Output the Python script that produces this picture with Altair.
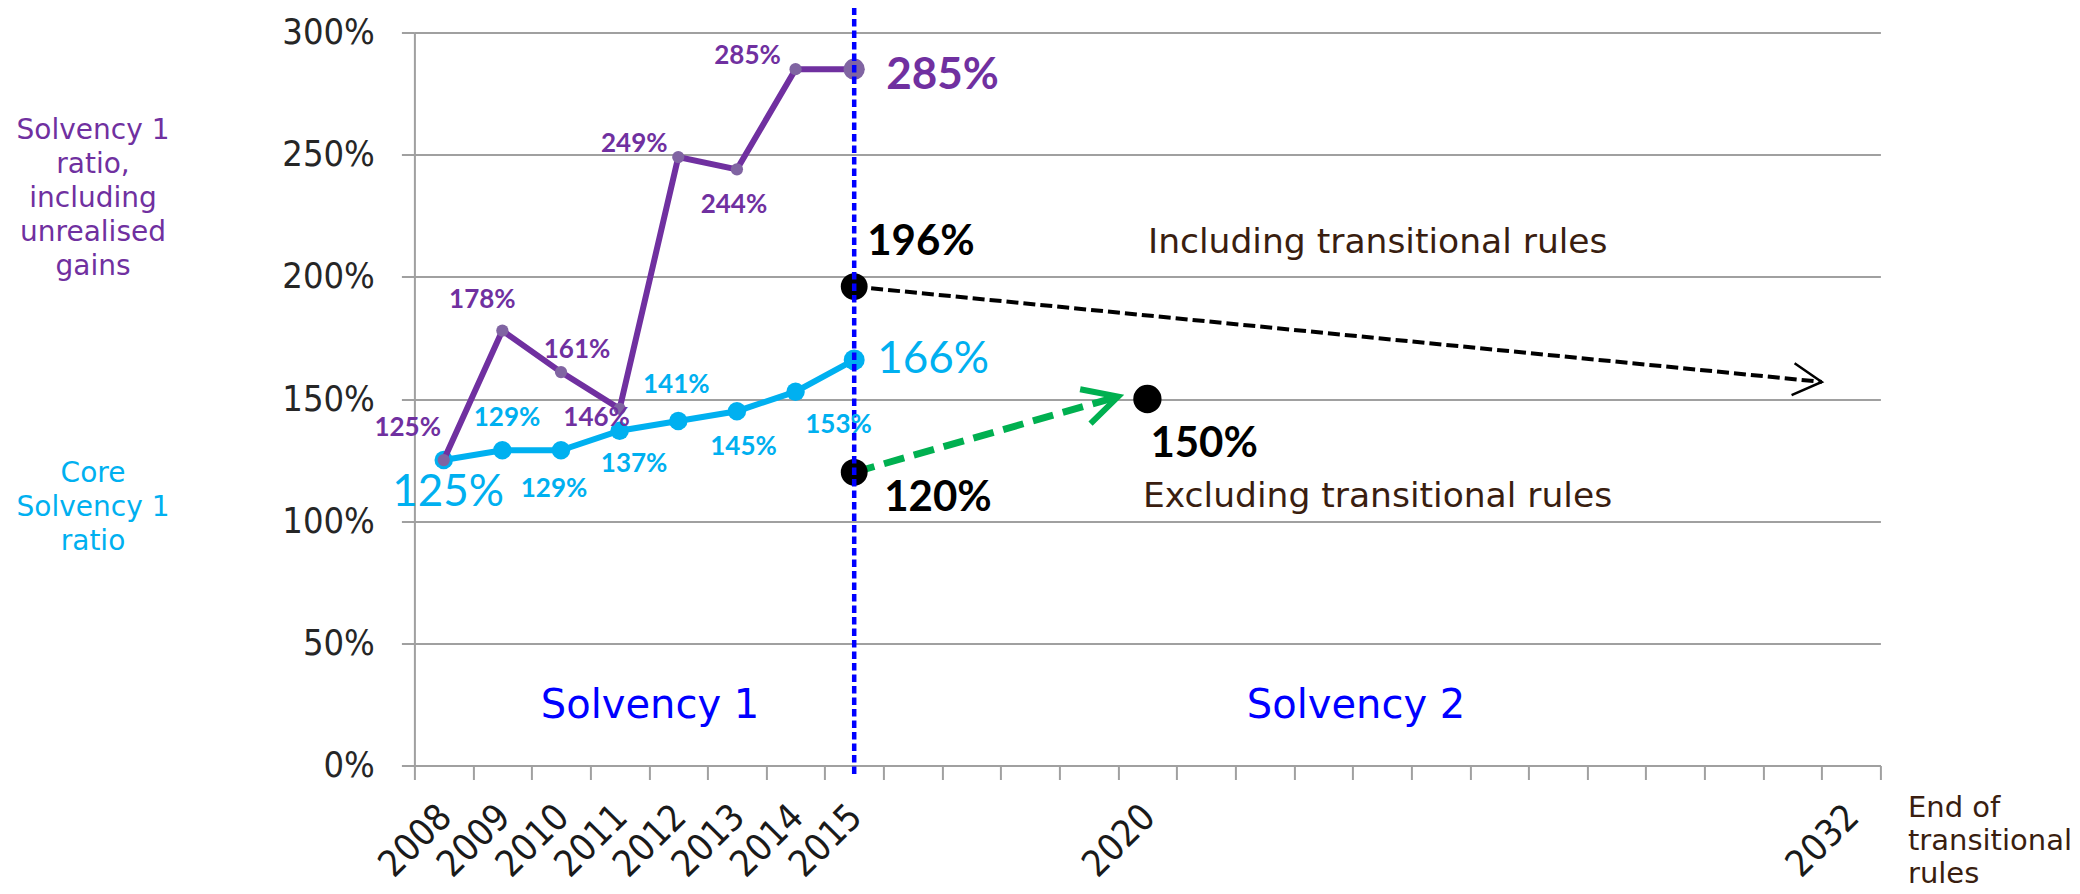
import altair as alt
import pandas as pd

# ---------------- data ----------------
YEARS = [2008, 2009, 2010, 2011, 2012, 2013, 2014, 2015]
SOLVENCY1_INCL_GAINS = [125, 178, 161, 146, 249, 244, 285, 285]
CORE_SOLVENCY1 = [125, 129, 129, 137, 141, 145, 153, 166]

S2_YEARS = [2015, 2015, 2020]
S2_VALUES = [196, 120, 150]

INCL_ARROW_YEARS = [2015, 2031.5]
INCL_ARROW_VALUES = [196, 157]
EXCL_ARROW_YEARS = [2015, 2019.5]
EXCL_ARROW_VALUES = [120, 151]

AXIS_LABEL_YEARS = [2008, 2009, 2010, 2011, 2012, 2013, 2014, 2015, 2020, 2032]
Y_TICKS = [0, 50, 100, 150, 200, 250, 300]
DIVIDER_YEAR = [2015]

LEFT_NOTE_PURPLE = ["Solvency 1", "ratio,", "including", "unrealised", "gains"]
LEFT_NOTE_CYAN = ["Core", "Solvency 1", "ratio"]
END_NOTE = ["End of", "transitional", "rules"]

# ---------------- styles ----------------
W, H = 1466, 733
PAD_L, PAD_T = 406.4, 24.5
PURPLE = "#7030A0"
PURPLE_MK = "#8064A2"
CYAN = "#00B0F0"
GREEN = "#00B050"
BLUE = "#0000FF"
BROWN = "#3A1E10"
GRID = "#A0A0A0"
VERD = "DejaVu Sans"
AXF = "'DejaVu Sans Condensed', 'DejaVu Sans'"
LBL = "Lato"

PURPLE_OFFS = {2008: (-36, -33.5), 2009: (-20, -32.5), 2010: (16, -24), 2011: (-23, 7.6),
               2012: (-44, -15), 2013: (-3, 34), 2014: (-48, -15)}
CYAN_OFFS = {2009: (4.7, -33.7), 2010: (-7, 37), 2011: (14.5, 31.5), 2012: (-2, -37.4),
             2013: (6.6, 34.5), 2014: (43, 31.8)}

X_SCALE = alt.Scale(domain=[2007.5, 2032.5], nice=False, zero=False)
Y_SCALE = alt.Scale(domain=[0, 300], nice=False, zero=True)
X_AXIS = alt.Axis(values=[2007.5 + i for i in range(26)], labels=False, title=None, grid=False,
                  domainColor=GRID, domainWidth=2, tickColor=GRID, tickWidth=2, tickSize=14)
Y_AXIS = alt.Axis(values=Y_TICKS, labelExpr="datum.value + '%'", title=None, grid=True,
                  gridColor=GRID, gridWidth=2, domainColor=GRID, domainWidth=2,
                  tickColor=GRID, tickWidth=2, tickSize=13, labelPadding=27,
                  labelFont=AXF, labelFontSize=36, labelColor="#262626")


def X():
    return alt.X("year:Q", scale=X_SCALE, axis=X_AXIS)


def Y():
    return alt.Y("value:Q", scale=Y_SCALE, axis=Y_AXIS)


purple = pd.DataFrame({"year": YEARS, "value": SOLVENCY1_INCL_GAINS})
purple["label"] = [f"{v}%" for v in SOLVENCY1_INCL_GAINS]
cyan = pd.DataFrame({"year": YEARS, "value": CORE_SOLVENCY1})
cyan["label"] = [f"{v}%" for v in CORE_SOLVENCY1]
s2 = pd.DataFrame({"year": S2_YEARS, "value": S2_VALUES})
s2["label"] = [f"{v}%" for v in S2_VALUES]
incl = pd.DataFrame({"year": INCL_ARROW_YEARS, "value": INCL_ARROW_VALUES})
excl = pd.DataFrame({"year": EXCL_ARROW_YEARS, "value": EXCL_ARROW_VALUES})
incl_tip = incl.tail(1)
excl_tip = excl.tail(1)
axis_lbl = pd.DataFrame({"year": AXIS_LABEL_YEARS, "t": [str(y) for y in AXIS_LABEL_YEARS]})
divider = pd.DataFrame({"year": DIVIDER_YEAR})

layers = []

# lines
layers.append(alt.Chart(cyan).mark_line(color=CYAN, strokeWidth=6).encode(x=X(), y=Y()))
layers.append(alt.Chart(cyan).mark_circle(color=CYAN, opacity=1).encode(
    x=X(), y=Y(), size=alt.condition("datum.year == 2015", alt.value(440), alt.value(340))))
layers.append(alt.Chart(purple).mark_line(color=PURPLE, strokeWidth=6).encode(x=X(), y=Y()))
layers.append(alt.Chart(purple).mark_circle(color=PURPLE_MK, opacity=1).encode(
    x=X(), y=Y(), size=alt.condition("datum.year == 2015", alt.value(450), alt.value(150))))

# arrows
CHEV = "M-1.8,-1L0,0L-1.8,1"
layers.append(alt.Chart(incl).mark_line(color="black", strokeWidth=4, strokeDash=[12, 5]).encode(x=X(), y=Y()))
layers.append(alt.Chart(incl_tip).mark_point(shape=CHEV, size=1024, filled=False, stroke="black",
                                             strokeWidth=2.5, angle=5.4, opacity=1).encode(x=X(), y=Y()))
layers.append(alt.Chart(excl).mark_line(color=GREEN, strokeWidth=7, strokeDash=[21, 10]).encode(x=X(), y=Y()))
layers.append(alt.Chart(excl_tip).mark_point(shape="M-1.9,-1L0,0L-1.9,1", size=1296, filled=False, stroke=GREEN,
                                             strokeWidth=6, angle=343.2, opacity=1).encode(x=X(), y=Y()))

# black solvency 2 points
layers.append(alt.Chart(s2).mark_circle(color="black", opacity=1).encode(
    x=X(), y=Y(), size=alt.condition("datum.year == 2020", alt.value(800), alt.value(720))))

# divider
layers.append(alt.Chart(divider).mark_rule(color=BLUE, strokeWidth=4.5, strokeDash=[7.5, 4]).encode(
    x=X(), y=alt.value(-25), y2=alt.value(H + 10)))


def label(df, year, dx, dy, color, size, weight="bold", align="center", value=None):
    cond = f"datum.year == {year}" + (f" && datum.value == {value}" if value is not None else "")
    return alt.Chart(df).transform_filter(cond).mark_text(
        font=LBL, fontSize=size, fontWeight=weight, color=color, align=align, baseline="middle",
        dx=dx, dy=dy + 0.06 * size).encode(x=X(), y=Y(), text="label:N")


for yr, (dx, dy) in PURPLE_OFFS.items():
    layers.append(label(purple, yr, dx, dy, PURPLE, 26))
layers.append(label(purple, 2015, 32, 4, PURPLE, 44, align="left"))
for yr, (dx, dy) in CYAN_OFFS.items():
    layers.append(label(cyan, yr, dx, dy, CYAN, 26))
layers.append(label(cyan, 2008, 4.5, 30, CYAN, 44, weight="normal"))
layers.append(label(cyan, 2015, 23, -3, CYAN, 44, weight="normal", align="left"))
layers.append(label(s2, 2015, 13, -47, "black", 42, align="left", value=196))
layers.append(label(s2, 2015, 30, 23, "black", 42, align="left", value=120))
layers.append(label(s2, 2020, 3, 42, "black", 42, align="left"))

# x axis year labels
layers.append(alt.Chart(axis_lbl).mark_text(font=AXF, fontSize=37, color="#1a1a1a", angle=315,
                                            align="right", baseline="middle", dx=3).encode(
    x=X(), y=alt.value(H + 48), text="t:N"))


def note(text, x, y, color, size, align="center", font=VERD):
    return alt.Chart(pd.DataFrame({"t": [text]})).mark_text(
        font=font, fontSize=size, color=color, align=align, baseline="alphabetic").encode(
        x=alt.value(x), y=alt.value(y), text="t:N")


for i, t in enumerate(LEFT_NOTE_PURPLE):
    layers.append(note(t, 93 - 414.4, 139 - 32.5 + 34.1 * i, PURPLE, 28))
for i, t in enumerate(LEFT_NOTE_CYAN):
    layers.append(note(t, 93 - 414.4, 482 - 32.5 + 34 * i, CYAN, 28))
for i, t in enumerate(END_NOTE):
    layers.append(note(t, 1908 - 414.4, 817 - 32.5 + 33 * i, BROWN, 29, align="left"))

layers.append(note("Including transitional rules", 1148 - 414.4, 253 - 32.5, BROWN, 34.5, align="left"))
layers.append(note("Excluding transitional rules", 1143 - 414.4, 507 - 32.5, BROWN, 34.5, align="left"))
layers.append(note("Solvency 1", 650 - 414.4, 718 - 32.5, BLUE, 40))
layers.append(note("Solvency 2", 1356 - 414.4, 718 - 32.5, BLUE, 40))

chart = alt.layer(*layers).properties(
    width=W, height=H,
    autosize=alt.AutoSizeParams(type="none"),
    padding={"left": PAD_L, "top": PAD_T, "right": 2064 - PAD_L - W, "bottom": 886 - PAD_T - H},
    background="white",
).configure_view(stroke=None)

chart.save("out.html", embed_options={"renderer": "svg", "actions": False})
